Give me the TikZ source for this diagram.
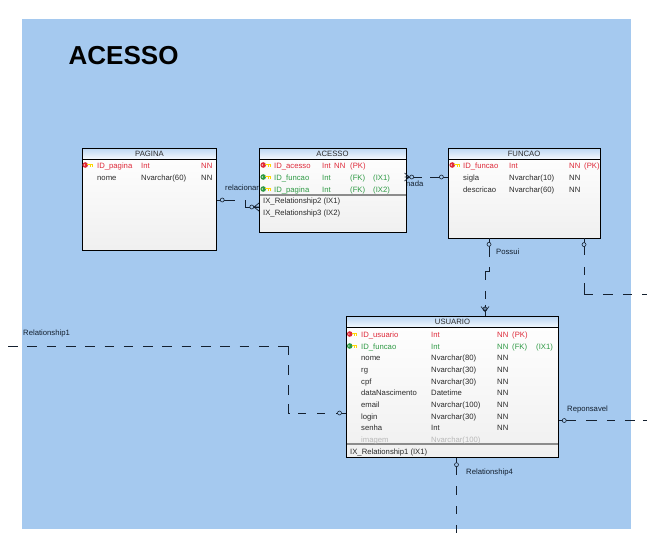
\documentclass[tikz,border=0pt]{standalone}
\usepackage{fontspec}
\setmainfont{Liberation Sans}
\definecolor{modelblue}{HTML}{A5C9EF}
\definecolor{pkred}{HTML}{DE2A3A}
\definecolor{fkgreen}{HTML}{2F9A45}
\definecolor{rowgray}{HTML}{2B2B2B}
\definecolor{offgray}{HTML}{B8B8B8}
\definecolor{linkblue}{HTML}{14202F}
\tikzset{
  tablebox/.style={draw=black,line width=0.9pt,top color=white,bottom color=black!6,inner sep=0pt},
  tablehead/.style={draw=black,line width=0.9pt,top color=modelblue!75!white,bottom color=white!88!modelblue,
    inner sep=0pt,minimum height=11pt,font=\fontsize{7.7}{9}\selectfont,text=rowgray},
  rowtext/.style={anchor=west,inner sep=0pt,text height=8pt,text depth=1.5pt,font=\fontsize{7.7}{9}\selectfont},
  linklabel/.style={anchor=west,inner sep=0pt,text=linkblue,font=\fontsize{7.7}{9}\selectfont},
  relline/.style={draw=linkblue,line width=0.8pt},
  opendot/.style={circle,draw=linkblue,fill=modelblue,line width=0.6pt,inner sep=0pt,minimum size=4pt},
  rowdivide/.style={draw=black!45,line width=1.4pt},
  keyicon/.pic={
    \fill[#1] (-2.8,0) circle (2.8pt);
    \fill[white] (-3.6,0) circle (0.7pt);
    \draw[yellow!75!orange,line width=1.7pt] (-1,-0.5) -- (4.6,-0.5);
    \draw[yellow!75!orange,line width=0.9pt] (2,-0.5) -- (2,1.6) (4,-0.5) -- (4,1.6);
  },
  crowfoot/.pic={
    \draw[draw=linkblue,line width=0.7pt] (5,-4) -- (0,0) -- (5,4) (0,0) -- (5,0);
  }
}
\begin{document}
\begin{tikzpicture}[x=1pt,y=-1pt]
        \useasboundingbox (0,0) rectangle (647,542);
        \fill[modelblue] (22,19) rectangle (631,529);

        \node[anchor=west,inner sep=0pt,font=\bfseries\fontsize{26}{30}\selectfont] (titulo) at (68.5,55.5) {ACESSO};

        % labels first, the tables cover them
        \node[linklabel] (lblrelacionar) at (225,188) {relacionar};
        \node[linklabel] (lblnada) at (406,183.5) {nada};
        \node[linklabel] (lblpossui) at (496,252) {Possui};
        \node[linklabel] (lblrel1) at (23,333) {Relationship1};
        \node[linklabel] (lblreponsavel) at (567,409) {Reponsavel};
        \node[linklabel] (lblrel4) at (466,472) {Relationship4};

        % tables
        \node[tablebox,minimum width=134pt,minimum height=102pt] (pagina) at (149.5,199) {};
        \node[tablebox,minimum width=147pt,minimum height=84pt] (acesso) at (332.5,190) {};
        \node[tablebox,minimum width=152pt,minimum height=90pt] (funcao) at (524,193) {};
        \node[tablebox,minimum width=212pt,minimum height=141pt] (usuario) at (452.5,387) {};

        \node[tablehead,minimum width=134pt,anchor=north] (paginahead) at (pagina.north) {PAGINA};
        \node[tablehead,minimum width=147pt,anchor=north] (acessohead) at (acesso.north) {ACESSO};
        \node[tablehead,minimum width=152pt,anchor=north] (funcaohead) at (funcao.north) {FUNCAO};
        \node[tablehead,minimum width=212pt,anchor=north] (usuariohead) at (usuario.north) {USUARIO};

        \draw[rowdivide] (259.5,195) -- (405.5,195);
        \draw[rowdivide] (347,444) -- (558,444);

        \pic at (88,165) {keyicon=pkred};
        \pic at (266,165) {keyicon=pkred};
        \pic at (266,177) {keyicon=fkgreen};
        \pic at (266,189) {keyicon=fkgreen};
        \pic at (455,165) {keyicon=pkred};
        \pic at (352.5,334) {keyicon=pkred};
        \pic at (352.5,346) {keyicon=fkgreen};

        \begin{scope}[every node/.style={rowtext,text=pkred}]
          \node (pgid)   at (97,165)  {ID\_pagina};
          \node (pgint)  at (141,165) {Int};
          \node (pgnn)   at (201,165) {NN};
          \node (acid)   at (274,165) {ID\_acesso};
          \node (acint)  at (322,165) {Int};
          \node (acnn)   at (334,165) {NN};
          \node (acpk)   at (350,165) {(PK)};
          \node (fnid)   at (463,165) {ID\_funcao};
          \node (fnint)  at (509,165) {Int};
          \node (fnnn)   at (569,165) {NN};
          \node (fnpk)   at (584,165) {(PK)};
          \node (usid)   at (361,334) {ID\_usuario};
          \node (usint)  at (431,334) {Int};
          \node (usnn)   at (497,334) {NN};
          \node (uspk)   at (512,334) {(PK)};
        \end{scope}

        \begin{scope}[every node/.style={rowtext,text=fkgreen}]
          \node (acfn)   at (274,177) {ID\_funcao};
          \node (acfnt)  at (322,177) {Int};
          \node (acfnk)  at (350,177) {(FK)};
          \node (acfnx)  at (373,177) {(IX1)};
          \node (acpg)   at (274,189) {ID\_pagina};
          \node (acpgt)  at (322,189) {Int};
          \node (acpgk)  at (350,189) {(FK)};
          \node (acpgx)  at (373,189) {(IX2)};
          \node (usfn)   at (361,346) {ID\_funcao};
          \node (usfnt)  at (431,346) {Int};
          \node (usfnn)  at (497,346) {NN};
          \node (usfnk)  at (512,346) {(FK)};
          \node (usfnx)  at (536,346) {(IX1)};
        \end{scope}

        \begin{scope}[every node/.style={rowtext,text=rowgray}]
          \node (pgnome)  at (97,177)  {nome};
          \node (pgnomet) at (141,177) {Nvarchar(60)};
          \node (pgnomen) at (201,177) {NN};
          \node (acix1)   at (263,200.5) {IX\_Relationship2 (IX1)};
          \node (acix2)   at (263,212.5) {IX\_Relationship3 (IX2)};
          \node (fnsigla)  at (463,177) {sigla};
          \node (fnsiglat) at (509,177) {Nvarchar(10)};
          \node (fnsiglan) at (569,177) {NN};
          \node (fndesc)   at (463,189) {descricao};
          \node (fndesct)  at (509,189) {Nvarchar(60)};
          \node (fndescn)  at (569,189) {NN};
          \node (usnome)  at (361,357) {nome};
          \node (usnomet) at (431,357) {Nvarchar(80)};
          \node (usnomen) at (497,357) {NN};
          \node (usrg)    at (361,369) {rg};
          \node (usrgt)   at (431,369) {Nvarchar(30)};
          \node (usrgn)   at (497,369) {NN};
          \node (uscpf)   at (361,381) {cpf};
          \node (uscpft)  at (431,381) {Nvarchar(30)};
          \node (uscpfn)  at (497,381) {NN};
          \node (usdata)  at (361,392) {dataNascimento};
          \node (usdatat) at (431,392) {Datetime};
          \node (usdatan) at (497,392) {NN};
          \node (usmail)  at (361,404) {email};
          \node (usmailt) at (431,404) {Nvarchar(100)};
          \node (usmailn) at (497,404) {NN};
          \node (uslogin)  at (361,416) {login};
          \node (uslogint) at (431,416) {Nvarchar(30)};
          \node (usloginn) at (497,416) {NN};
          \node (ussenha)  at (361,427) {senha};
          \node (ussenhat) at (431,427) {Int};
          \node (ussenhan) at (497,427) {NN};
          \node (usix)     at (350,451) {IX\_Relationship1 (IX1)};
        \end{scope}

        \begin{scope}[every node/.style={rowtext,text=offgray}]
          \node (usimg)  at (361,439) {imagem};
          \node (usimgt) at (431,439) {Nvarchar(100)};
        \end{scope}

        % free ends and bends
        \coordinate (freerel1) at (8,346);
        \coordinate (bendrel1a) at (288,346);
        \coordinate (bendrel1b) at (288,413);
        \coordinate (freefn) at (647,294);
        \coordinate (bendfn) at (584,294);
        \coordinate (freeresp) at (647,420.5);
        \coordinate (freerel4) at (456.5,533);
        \coordinate (pgdrop) at (245,200);
        \coordinate (pgbend) at (245,207);

        % connectors
        \draw[relline] (pagina.east |- pgdrop) -- node[opendot,pos=0.3] (dotpg) {} (234.5,200);
        \draw[relline] (pgdrop) -- (pgbend) -- node[opendot,pos=0.5] (dotacl) {} (acesso.west |- pgbend);
        \pic at (254,207) {crowfoot};

        \draw[relline] (acesso.east |- 0,177) -- node[opendot,pos=0.35] (dotacr) {} (421.5,177);
        \draw[relline] (430,177) -- node[opendot,pos=0.65] (dotfnl) {} (funcao.west |- 0,177);
        \pic[rotate=180] at (409.5,177) {crowfoot};

        \draw[relline,dash pattern=on 19pt off 10pt on 16.5pt off 11pt on 8pt off 6pt on 11pt]
          (funcao.south -| 489,0) -- node[opendot,pos=0.18] (dotfnb) {} (489,271) -- (485,271) -- (usuario.north -| 485,0);
        \node[opendot] (dotust) at (485,309) {};
        \pic[rotate=90] at (485,311.5) {crowfoot};

        %\draw[relline] (funcao.south -| 584,0) -- (bendfn) -- (freefn);
        \draw[relline,dash pattern=on 17pt off 12pt on 8pt off 8pt on 20pt off 10pt on 10pt off 10pt on 9pt off 10pt on 5pt]
          (funcao.south -| 584,0) -- node[opendot,pos=0.11] (dotfnr) {} (bendfn) -- (freefn);

        \draw[relline,dash pattern=on 9.6pt off 9.7pt on 9.6pt off 9.7pt on 9.6pt off 9.7pt on 9.6pt off 9.7pt on 9.6pt off 9.7pt on 9.6pt off 9.7pt on 9.6pt off 9.7pt on 9.6pt off 9.7pt on 9.6pt off 9.7pt on 9.6pt off 9.7pt on 9.6pt off 9.7pt on 9.6pt off 9.7pt on 9.6pt off 9.7pt on 9.6pt off 9.7pt on 19pt off 10pt on 10pt off 10pt on 10pt off 9pt on 11pt off 8pt on 8pt off 11pt on 8pt off 11pt on 18.5pt]
          (freerel1) -- (bendrel1a) -- (bendrel1b) -- (usuario.west |- bendrel1b);
        \node[opendot] (dotusl) at (339.5,413) {};

        \draw[relline,dash pattern=on 17pt off 10.5pt on 10.5pt off 10pt on 8pt off 10pt on 10pt off 8pt on 4pt]
          (usuario.east |- freeresp) -- node[opendot,pos=0.06] (dotusr) {} (freeresp);

        \draw[relline,dash pattern=on 17.5pt off 11pt on 9pt off 11pt on 8pt off 11pt on 8pt]
          (usuario.south -| freerel4) -- node[opendot,pos=0.09] (dotusb) {} (freerel4);

      \end{tikzpicture}
\end{document}
